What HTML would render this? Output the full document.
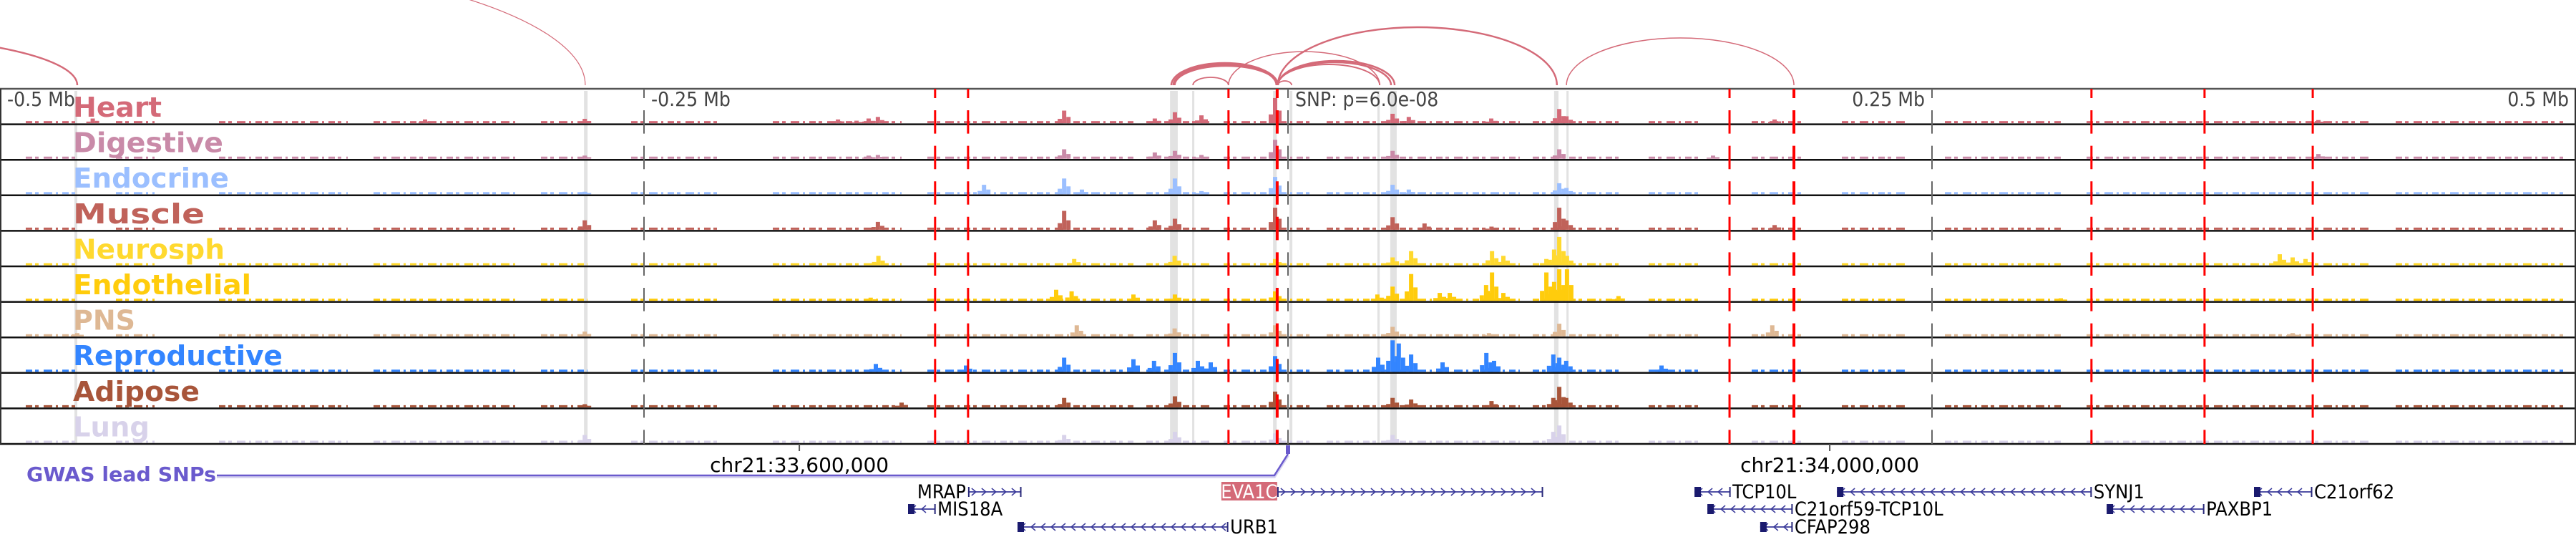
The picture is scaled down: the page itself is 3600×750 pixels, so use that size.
<!DOCTYPE html>
<html><head><meta charset="utf-8">
<style>
html,body{margin:0;padding:0;background:#fff;}
svg{display:block;}
.lbl{font-family:"DejaVu Sans Condensed","DejaVu Sans",sans-serif;font-stretch:condensed;font-weight:bold;font-size:38px;}
.ax{font-family:"DejaVu Sans Condensed","DejaVu Sans",sans-serif;font-stretch:condensed;font-size:28px;fill:#444;}
.gn{font-family:"DejaVu Sans Condensed","DejaVu Sans",sans-serif;font-stretch:condensed;font-size:27px;}
.chr{font-family:"DejaVu Sans","Liberation Sans",sans-serif;font-size:28px;fill:#000;}
</style></head>
<body>
<svg id="chart" width="3600" height="750" viewBox="0 0 3600 750" xmlns="http://www.w3.org/2000/svg">
<g id="arcs"></g>
<g id="bands"></g>
<g id="tracks"></g>
<g id="vlines"></g>
<g id="labels"></g>
<g id="axis"></g>
<g id="genes"></g>
</svg>
<script>
// ---- data ----
const trackNames = ["Heart","Digestive","Endocrine","Muscle","Neurosph","Endothelial","PNS","Reproductive","Adipose","Lung"];
const trackColors = ["#d46a78","#c98aa8","#9bbfff","#c0625a","#ffd92f","#ffcc0c","#deb894","#3385ff","#a8553a","#d8d2ea"];
const labelWidths = [124,210,218,184,212,249,87,293,177,107];
const heartPeaks = [[-464,.15],[-335,.12],[-273,.14],[-174.7,.12],[-167.5,.08],[-162.8,.15],[-159.2,.2],[-86.9,.4],[-51.7,.15],[-43.9,.35],[-33.6,.25],[-5,.8],[40.6,.3],[46.9,.2],[78.9,.15],[105.3,.45],[108.1,.22],[188.9,.12],[400,.1]];
const digestivePeaks = [[-273,.1],[-162.8,.1],[-159.2,.12],[-86.9,.3],[-51.7,.2],[-43.9,.25],[-33.6,.12],[-5,.6],[40.6,.25],[105.3,.3],[400,.15],[165,.1]];
const endocrinePeaks = [[-273,.08],[-118,.3],[-86.9,.5],[-80,.15],[-43.9,.5],[-33.6,.1],[-5,.55],[40.6,.3],[46.9,.15],[105.3,.35],[108.1,.2]];
const musclePeaks = [[-273,.3],[-159.2,.25],[-86.9,.6],[-51.7,.3],[-43.9,.35],[-5,.7],[40.6,.4],[53,.2],[79,.1],[105.3,.7],[108.1,.3],[188.9,.15]];
const neurosphPeaks = [[-159,.3],[-83,.2],[-44,.3],[-5,.2],[40.6,.25],[47.8,.45],[79.2,.45],[83.6,.3],[100.3,.2],[103.3,.5],[105.3,.9],[108.3,.3],[385,.35],[390,.25],[395,.2]];
const endothelialPeaks = [[-162,.1],[-90,.35],[-84,.3],[-60,.2],[-43.9,.2],[-5,.3],[34.7,.2],[40.6,.45],[47.8,.85],[58.9,.25],[62.8,.25],[76.9,.5],[79.2,.9],[83.6,.25],[100.3,.9],[103.3,.6],[105.3,1.0],[108.3,1.0],[128.3,.15],[300,.08]];
const pnsPeaks = [[-470,.1],[-273,.15],[-82,.35],[-44,.25],[-5,.35],[40.6,.3],[78,.1],[105.3,.4],[188,.35],[390,.1]];
const reproductivePeaks = [[-160,.25],[-125,.2],[-86.9,.45],[-60,.4],[-52,.35],[-43.9,.6],[-35,.35],[-30,.3],[-5,.5],[35,.45],[40.6,1.0],[43,.9],[47.8,.55],[60,.3],[77,.6],[80,.35],[103,.55],[105.3,.45],[108,.35],[145,.2]];
const adiposePeaks = [[-273,.1],[-150,.15],[-86.9,.3],[-43.9,.35],[-5,.5],[40.6,.3],[47.8,.25],[79,.2],[103,.3],[105.3,.65],[108,.3]];
const lungPeaks = [[-273,.25],[-86.9,.25],[-43.9,.35],[-5,.3],[40.6,.25],[103,.35],[105.3,.55]];
const allPeaks = [heartPeaks,digestivePeaks,endocrinePeaks,musclePeaks,neurosphPeaks,endothelialPeaks,pnsPeaks,reproductivePeaks,adiposePeaks,lungPeaks];
const bgSegments = [[-490,-470],[-455,-440],[-415,-365],[-355,-300],[-290,-272],[-255,-220],[-200,-150],[-140,-60],[-55,-30],[-25,10],[15,90],[95,130],[140,160],[180,200],[215,240],[255,300],[310,420],[430,495]];
const redLinesKb = [-137,-124.2,-23.1,-4.2,171.4,196.4,311.9,355.8,397.8];
const greyLinesKb = [-250,0,250];
const bandsKb = [[-471.1,-470],[-273.3,-271.9],[-45.8,-42.8],[-37.2,-36.4],[-5.8,-4.4],[0.6,1.7],[34.7,35.6],[39.7,42.2],[103.3,105],[108.1,108.9]];
const loops = [[-45.3,-3.9,31],[-44.5,-4.5,29],[-44,-4,27],[-3.9,41.4,34],[-3.9,40,32],[-3.9,35.6,29],[-36.9,-23.1,11],[-23.1,35.6,47],[-3.9,104.4,81],[108.1,196.4,66],[-3.9,1.4,6],[-661.7,-272.8,187],[-636.7,-470,68]];
const loopWidths = [2.5,2.5,2.5,2.5,2.5,2,1.8,1.5,2.5,1.5,1.8,1.2,2.5];
const axisTicksKb = [-500,-250,250,500];
const axisTickLabels = ["-0.5 Mb","-0.25 Mb","0.25 Mb","0.5 Mb"];
const snpLabel = "SNP: p=6.0e-08";
const chrTicksKb = [-189.7,210.3];
const chrTickLabels = ["chr21:33,600,000","chr21:34,000,000"];
// genes: name, startKb, endKb, row, strand, labelSide
const genes = [
 ["MRAP",-124.2,-103.6,0,1,"left"],
 ["MIS18A",-147.5,-136.9,1,-1,"right"],
 ["URB1",-105,-23.3,2,-1,"right"],
 ["EVA1C",-4.2,98.9,0,1,"leftbox"],
 ["TCP10L",157.8,171.7,0,-1,"right"],
 ["SYNJ1",213.1,311.9,0,-1,"right"],
 ["C21orf62",375,397.5,0,-1,"right"],
 ["C21orf59-TCP10L",162.8,195.8,1,-1,"right"],
 ["PAXBP1",317.8,355.6,1,-1,"right"],
 ["CFAP298",183.3,195.8,2,-1,"right"]
];
// ---- scales ----
const NS="http://www.w3.org/2000/svg";
const X = kb => (kb+500)*3.6;
const TOP=124, RH=49.6, NR=10, BOTTOM=TOP+RH*NR;
function el(tag, attrs, parent){const e=document.createElementNS(NS,tag);for(const k in attrs)e.setAttribute(k,attrs[k]);parent.appendChild(e);return e;}
const G = id => document.getElementById(id);

loops.forEach((l,i)=>{
  const x1=X(l[0]), x2=X(l[1]), rx=(x2-x1)/2;
  const p=el('path',{d:`M${x1},119 A${rx},${l[2]} 0 0 1 ${x2},119`,fill:'none',stroke:'#d46a78','stroke-width':loopWidths[i]},G('arcs'));
  
  
});
bandsKb.forEach(b=>{
  const r=el('rect',{x:X(b[0]),y:TOP+3,width:Math.max(3,X(b[1])-X(b[0])),height:BOTTOM-TOP-3,fill:'#e2e2e2'},G('bands'));
  
  
});
for(let i=0;i<NR;i++){
  const top=TOP+i*RH, base=top+RH-1.5, col=trackColors[i];
  const g=el('g',{},G('tracks'));
  
  
  bgSegments.forEach(s=>{
    el('line',{x1:X(s[0]),x2:X(s[1]),y1:base-1.5,y2:base-1.5,stroke:col,'stroke-width':3,'stroke-dasharray':'9 4 5 7 12 5 3 6'},g);
  });
  allPeaks[i].forEach(p=>{
    const h=p[1]*44, x=X(p[0]);
    el('rect',{x:x-9,y:base-h*0.35,width:6,height:h*0.35,fill:col},g);
    el('rect',{x:x+3,y:base-h*0.5,width:6,height:h*0.5,fill:col},g);
    const r=el('rect',{x:x-3,y:base-h,width:6,height:h,fill:col},g);
    
    
  });
  const ln=el('line',{x1:0,x2:3600,y1:top+RH,y2:top+RH,stroke:'#111','stroke-width':2.5},G('tracks'));
  
  
}
el('line',{x1:0,x2:3600,y1:TOP,y2:TOP,stroke:'#555','stroke-width':2.5},G('tracks'));
el('line',{x1:1,x2:1,y1:TOP,y2:BOTTOM,stroke:'#333','stroke-width':2},G('tracks'));
el('line',{x1:3599,x2:3599,y1:TOP,y2:BOTTOM,stroke:'#333','stroke-width':2},G('tracks'));
greyLinesKb.forEach(k=>{
  const l=el('line',{x1:X(k),x2:X(k),y1:TOP,y2:BOTTOM,stroke:'#666','stroke-width':2,'stroke-dasharray':'32.6 17','stroke-dashoffset':19.6},G('vlines'));
  
  
});
redLinesKb.forEach((k,i)=>{
  const l=el('line',{x1:X(k),x2:X(k),y1:TOP,y2:BOTTOM,stroke:'#ff0000','stroke-width':(i==3||i==5)?4:3,'stroke-dasharray':'32.6 17','stroke-dashoffset':19.6},G('vlines'));
  
  
});
trackNames.forEach((n,i)=>{
  const t=el('text',{x:102,y:TOP+i*RH+39,class:'lbl',fill:trackColors[i],textLength:labelWidths[i],lengthAdjust:'spacingAndGlyphs'},G('labels'));
  t.textContent=n;
  
  
});
axisTickLabels.forEach((s,i)=>{
  const k=axisTicksKb[i];
  const neg=k<0;
  const t=el('text',{x:neg?X(k)+10:X(k)-10,y:148,class:'ax','text-anchor':neg?'start':'end'},G('axis'));
  t.textContent=s;
  
  
});
{const t=el('text',{x:X(0)+10,y:148,class:'ax'},G('axis'));t.textContent=snpLabel;

}
chrTickLabels.forEach((s,i)=>{
  const x=X(chrTicksKb[i]);
  el('line',{x1:x,x2:x,y1:BOTTOM,y2:BOTTOM+10,stroke:'#555','stroke-width':2},G('axis'));
  const t=el('text',{x:x,y:659,class:'chr','text-anchor':'middle'},G('axis'));
  t.textContent=s;
  
  
});
{const g=G('axis');
 const t=el('text',{x:37,y:672,class:'lbl',fill:'#6a5acd',textLength:265,lengthAdjust:'spacingAndGlyphs'},g);
 t.setAttribute('style','font-size:28px');
 t.textContent='GWAS lead SNPs';
 
 
 el('polyline',{points:`303,666 ${X(-5.3)},666 ${X(0)},636`,fill:'none',stroke:'#d8d4f0','stroke-width':4},g);
 const pl=el('polyline',{points:`303,664 ${X(-5.3)},664 ${X(0)},634`,fill:'none',stroke:'#6a5acd','stroke-width':2.5},g);
 
 
 const r=el('rect',{x:X(0)-3,y:622,width:6,height:12,fill:'#6a5acd'},g);
 
 
}
const rowY=[687,711,736];
genes.forEach(gn=>{
  const [name,s,e,row,strand,side]=gn;
  const g=el('g',{},G('genes'));
  
  
  const x1=X(s),x2=X(e),y=rowY[row];
  el('line',{x1:x1,x2:x2,y1:y,y2:y,stroke:'#3a3a9a','stroke-width':1.8},g);
  for(let x=x1+8;x<x2-4;x+=14){
    const d=strand>0?`M${x-3},${y-5} L${x+3},${y} L${x-3},${y+5}`:`M${x+3},${y-5} L${x-3},${y} L${x+3},${y+5}`;
    el('path',{d:d,fill:'none',stroke:'#3a3a9a','stroke-width':1.5},g);
  }
  el('rect',{x:x2-1.5,y:y-7,width:2,height:14,fill:'#2a2a7a'},g);
  if(strand<0) el('rect',{x:x1,y:y-7,width:9,height:14,fill:'#1a1a6e'},g);
  else el('rect',{x:x1,y:y-7,width:2,height:14,fill:'#2a2a7a'},g);
  if(side==='leftbox'){
    el('rect',{x:x1-78,y:y-14,width:78,height:26,fill:'#d46a78'},g);
    const t=el('text',{x:x1-39,y:y+9,class:'gn','text-anchor':'middle'},g);
    t.setAttribute('style','fill:#fff');
    t.textContent=name;
  } else if(side==='left'){
    const t=el('text',{x:x1-3,y:y+9,class:'gn','text-anchor':'end'},g);t.textContent=name;
  } else {
    const t=el('text',{x:x2+3,y:y+9,class:'gn'},g);t.textContent=name;
  }
});
</script>
</body></html>
